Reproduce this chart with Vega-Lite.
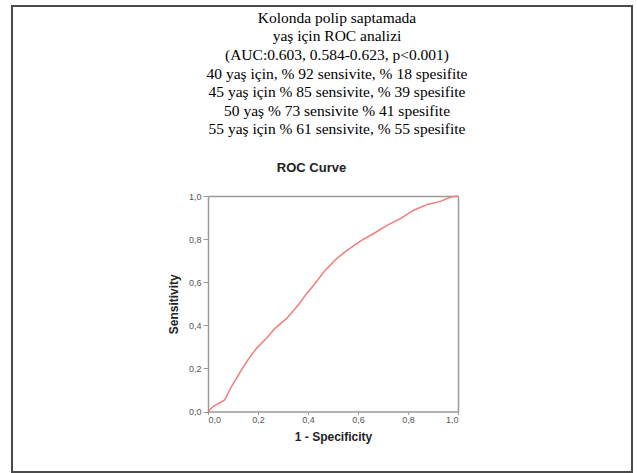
{
  "$schema": "https://vega.github.io/schema/vega-lite/v6.json",
  "autosize": "none",
  "width": 620,
  "height": 466,
  "padding": {"left": 12, "top": 6, "right": 5, "bottom": 1},
  "background": "white",
  "title": {
    "text": [
      "Kolonda polip saptamada",
      "yaş için ROC analizi",
      "(AUC:0.603, 0.584-0.623, p<0.001)",
      "40 yaş için, % 92 sensivite, % 18 spesifite",
      "45 yaş için % 85 sensivite, % 39 spesifite",
      "50 yaş % 73 sensivite % 41 spesifite",
      "55 yaş için % 61 sensivite, % 55 spesifite"
    ],
    "anchor": "middle",
    "frame": "group",
    "orient": "top",
    "baseline": "top",
    "offset": 0,
    "dx": 15,
    "dy": 132,
    "font": "Liberation Serif, Times New Roman, DejaVu Serif, serif",
    "fontSize": 15.5,
    "fontWeight": "normal",
    "color": "#000000",
    "lineHeight": 18.6
  },
  "data": {
    "values": [
      {"fpr": 0.0, "tpr": 0.0},
      {"fpr": 0.02, "tpr": 0.023},
      {"fpr": 0.067, "tpr": 0.054},
      {"fpr": 0.094, "tpr": 0.116},
      {"fpr": 0.134, "tpr": 0.193},
      {"fpr": 0.161, "tpr": 0.242},
      {"fpr": 0.194, "tpr": 0.293},
      {"fpr": 0.234, "tpr": 0.34},
      {"fpr": 0.268, "tpr": 0.386},
      {"fpr": 0.315, "tpr": 0.432},
      {"fpr": 0.361, "tpr": 0.494},
      {"fpr": 0.395, "tpr": 0.548},
      {"fpr": 0.428, "tpr": 0.594},
      {"fpr": 0.469, "tpr": 0.656},
      {"fpr": 0.515, "tpr": 0.71},
      {"fpr": 0.556, "tpr": 0.748},
      {"fpr": 0.616, "tpr": 0.795},
      {"fpr": 0.663, "tpr": 0.826},
      {"fpr": 0.716, "tpr": 0.864},
      {"fpr": 0.77, "tpr": 0.895},
      {"fpr": 0.823, "tpr": 0.934},
      {"fpr": 0.877, "tpr": 0.961},
      {"fpr": 0.93, "tpr": 0.975},
      {"fpr": 0.971, "tpr": 0.995},
      {"fpr": 1.0, "tpr": 1.0}
    ]
  },
  "layer": [
    {
      "mark": {"type": "line", "color": "#f27b7b", "strokeWidth": 1.5, "clip": false},
      "encoding": {
        "x": {
          "field": "fpr", "type": "quantitative",
          "scale": {"domain": [0, 1], "range": [196, 446], "nice": false, "zero": false},
          "axis": {
            "orient": "bottom", "offset": -60.5, "title": "1 - Specificity",
            "values": [0, 0.2, 0.4, 0.6, 0.8, 1],
            "labelExpr": "replace(format(datum.value, '.1f'), '.', ',')",
            "tickSize": 3,
            "labelPadding": 1,
            "titlePadding": 7
          }
        },
        "y": {
          "field": "tpr", "type": "quantitative",
          "scale": {"domain": [0, 1], "range": [405.5, 190], "nice": false, "zero": false},
          "axis": {
            "orient": "left", "offset": -196, "title": "Sensitivity",
            "values": [0, 0.2, 0.4, 0.6, 0.8, 1],
            "labelExpr": "replace(format(datum.value, '.1f'), '.', ',')",
            "titlePadding": 8
          }
        }
      }
    },
    {
      "mark": {"type": "line", "strokeOpacity": 0},
      "encoding": {
        "x": {
          "field": "fpr", "type": "quantitative",
          "scale": {"domain": [0, 1], "range": [196, 446], "nice": false, "zero": false},
          "axis": {
            "orient": "top", "offset": -190, "title": "ROC Curve",
            "labels": false, "ticks": false,
            "titleX": 299, "titleY": -29, "titleBaseline": "middle",
            "titleFontSize": 13
          }
        },
        "y": {
          "field": "tpr", "type": "quantitative",
          "scale": {"domain": [0, 1], "range": [405.5, 190], "nice": false, "zero": false},
          "axis": {
            "orient": "right", "offset": -174, "title": null,
            "labels": false, "ticks": false
          }
        }
      }
    }
  ],
  "resolve": {"axis": {"x": "independent", "y": "independent"}},
  "config": {
    "view": {"stroke": "#4a4a4a", "strokeWidth": 2},
    "axis": {
      "grid": false,
      "domainColor": "#9a9a9a",
      "domainWidth": 1.5,
      "tickColor": "#9a9a9a",
      "tickSize": 5,
      "tickWidth": 1,
      "labelFont": "Liberation Sans",
      "labelFontSize": 9,
      "labelColor": "#555555",
      "labelPadding": 2,
      "titleFont": "Liberation Sans",
      "titleFontSize": 12,
      "titleFontWeight": "bold",
      "titleColor": "#222222"
    }
  }
}
